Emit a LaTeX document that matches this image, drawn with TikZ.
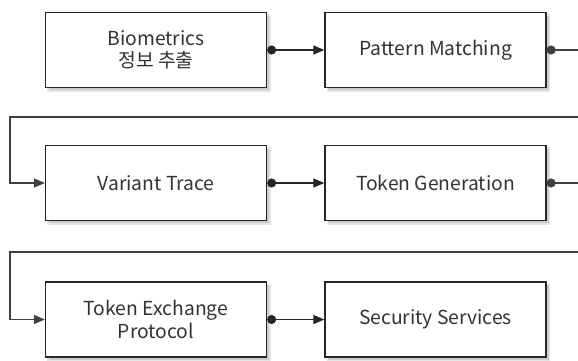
\documentclass[tikz,border=0pt]{standalone}
\usepackage{fontspec}
\setmainfont{Noto Sans CJK KR}
\usetikzlibrary{arrows.meta,backgrounds,calc}
\begin{document}
\begin{tikzpicture}[x=1pt,y=-1pt,
  blk/.style={draw=black!85, line width=1.3pt, fill=white, minimum width=221pt, minimum height=75pt, inner sep=0pt, align=center, font=\fontsize{19.3}{22.5}\selectfont, text=black!80},
  shade/.style={fill=black!20, draw=black!10, line width=1.5pt},
  conn/.style={draw=black!85, line width=1.2pt, {Circle[length=9pt]}-{Triangle[length=11pt,width=9pt]}},
  flow/.style={draw=black!75, line width=1.3pt, {Circle[length=9pt]}-{Triangle[length=11pt,width=9pt]}}]
\useasboundingbox (0,0) rectangle (578,361);
\node[blk] (b1) at (156,50) {Biometrics\\정보 추출};
\node[blk] (b2) at (435.5,50) {Pattern Matching};
\node[blk] (b3) at (156,183) {Variant Trace};
\node[blk] (b4) at (435.5,183) {Token Generation};
\node[blk] (b5) at (156,319.5) {Token Exchange\\Protocol};
\node[blk] (b6) at (435.5,319.5) {Security Services};
\begin{scope}[on background layer]
\fill[white] (0,0) rectangle (578,361);
\foreach \n in {b1,b2,b3,b4,b5,b6}
  \draw[shade] ($(\n.north west)+(3,3)$) rectangle ($(\n.south east)+(3,3)$);
\end{scope}
\coordinate (r1) at (595,117);
\coordinate (l1) at (10,117);
\coordinate (r2) at (595,252);
\coordinate (l2) at (10,252);
\draw[conn] (b1) -- (b2);
\draw[conn] (b3) -- (b4);
\draw[conn] (b5) -- (b6);
\draw[flow] (b2.east) -- (b2.east -| r1) -- (r1) -- (l1) -- (l1 |- b3.west) -- (b3.west);
\draw[flow] (b4.east) -- (b4.east -| r2) -- (r2) -- (l2) -- (l2 |- b5.west) -- (b5.west);
\end{tikzpicture}
\end{document}
